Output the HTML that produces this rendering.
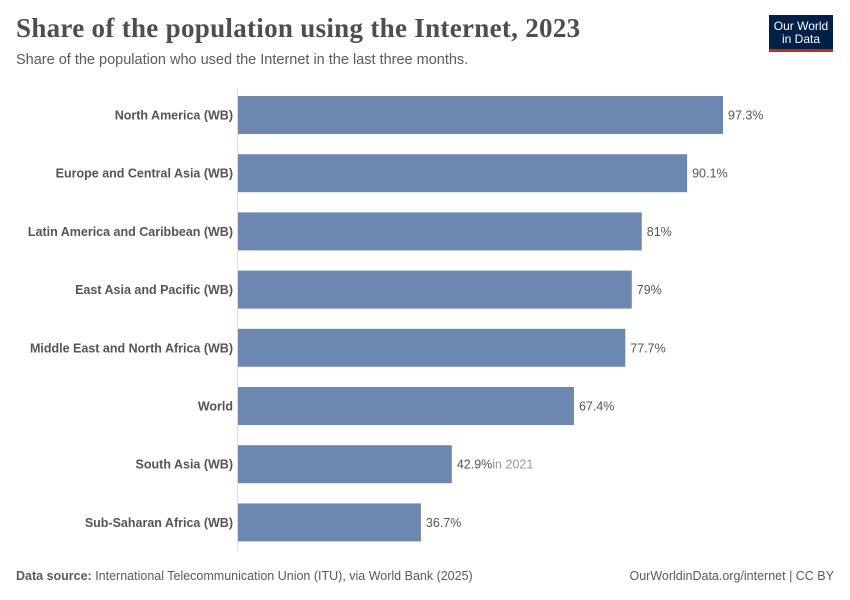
<!DOCTYPE html>
<html><head><meta charset="utf-8"><style>
body{margin:0;background:#fff;font-family:"Liberation Sans",sans-serif;}
#wrap{position:relative;width:850px;height:600px;overflow:hidden;}
.title{position:absolute;left:16px;top:13px;font-family:"Liberation Serif",serif;font-weight:bold;font-size:27px;color:#4e4e4e;letter-spacing:0.3px}
.sub{position:absolute;left:16px;top:52px;font-size:14.5px;color:#5b5b5b}
.logo{position:absolute;left:769px;top:15px;width:64px;height:37px;background:#002147;border-bottom:3px solid #ce261e;color:#fff;font-size:12px;line-height:13px;text-align:center;padding-top:5px;box-sizing:border-box}
.foot{position:absolute;top:569px;font-size:12.5px;color:#5b5b5b}
</style></head><body><div id="wrap">
<div class="title">Share of the population using the Internet, 2023</div>
<div class="sub">Share of the population who used the Internet in the last three months.</div>
<div class="logo">Our World<br>in Data</div>
<svg id="svg" width="850" height="600" style="position:absolute;left:0;top:0"></svg>
<div class="foot" style="left:16px"><b>Data source:</b> International Telecommunication Union (ITU), via World Bank (2025)</div>
<div class="foot" style="right:16px">OurWorldinData.org/internet | CC BY</div>
</div>
<script>
const categories=["North America (WB)","Europe and Central Asia (WB)","Latin America and Caribbean (WB)","East Asia and Pacific (WB)","Middle East and North Africa (WB)","World","South Asia (WB)","Sub-Saharan Africa (WB)"];
const values=[97.3,90.1,81,79,77.7,67.4,42.9,36.7];
const valueLabels=["97.3%","90.1%","81%","79%","77.7%","67.4%","42.9%","36.7%"];
const notes=["","","","","","","in 2021",""];
const NS="http://www.w3.org/2000/svg";
const svg=document.getElementById('svg');
const x0=238,pxPer=485/97.3;
const xs=v=>x0+v*pxPer;
const ys=i=>96+i*58.2;
const bh=38;
function mk(t,a){const e=document.createElementNS(NS,t);for(const k in a)e.setAttribute(k,a[k]);svg.appendChild(e);return e;}
const ax=mk('line',{x1:237.5,x2:237.5,y1:88,y2:551,stroke:'#ddd','stroke-width':1});


categories.forEach((c,i)=>{
 const y=ys(i);
 const r=mk('rect',{x:x0,y:y,width:xs(values[i])-x0,height:bh,fill:'#6d88b0'});
 
 
 const l=mk('text',{x:233,y:y+bh/2+4.5,'text-anchor':'end','font-size':12.5,'font-weight':'bold',fill:'#555','font-family':'Liberation Sans, sans-serif'});
 l.textContent=c;
 
 
 const v=mk('text',{x:xs(values[i])+5,y:y+bh/2+4.5,'font-size':12.5,fill:'#555','font-family':'Liberation Sans, sans-serif'});
 v.textContent=valueLabels[i];
 
 
 if(notes[i]){const ts=document.createElementNS(NS,'tspan');ts.setAttribute('fill','#999');ts.textContent=notes[i];v.appendChild(ts);}
});
</script></body></html>
